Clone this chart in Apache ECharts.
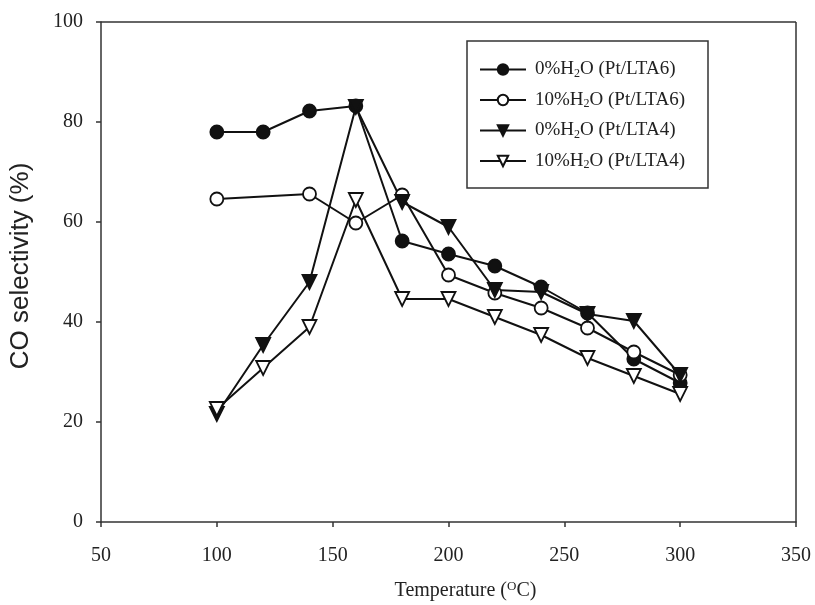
<!DOCTYPE html>
<html>
<head>
<meta charset="utf-8">
<script src="https://cdn.jsdelivr.net/npm/echarts@6/dist/echarts.min.js"></script>
<style>html,body{margin:0;padding:0;background:#fff}#c{width:815px;height:605px}</style>
</head>
<body>
<div id="c"></div>
<script>
const temps = [100, 120, 140, 160, 180, 200, 220, 240, 260, 280, 300];
const lta6_dry = [78, 78, 82.2, 83.2, 56.2, 53.6, 51.2, 47, 41.8, 32.6, 27.8];
const lta6_wet = [64.6, null, 65.6, 59.8, 65.4, 49.4, 45.8, 42.8, 38.8, 34, 29.4];
const lta4_dry = [21.6, 35.4, 48, 83, 64, 59, 46.4, 46, 41.6, 40.2, 29.4];
const lta4_wet = [22.6, 30.8, 39, 64.4, 44.6, 44.6, 41, 37.4, 32.8, 29.2, 25.6];
const seriesNames = ['0%H2O (Pt/LTA6)', '10%H2O (Pt/LTA6)', '0%H2O (Pt/LTA4)', '10%H2O (Pt/LTA4)'];
const xTicks = [50, 100, 150, 200, 250, 300, 350];
const yTicks = [0, 20, 40, 60, 80, 100];

const serif = "'Liberation Serif', 'DejaVu Serif', serif";
function pairs(vals) {
  const out = [];
  temps.forEach((t, i) => { if (vals[i] !== null) out.push([t, vals[i]]); });
  return out;
}
function mk(name, vals, symbol, filled, rotate) {
  return {
    name: name, type: 'line', data: pairs(vals),
    symbol: symbol, symbolSize: symbol === 'circle' ? 13 : 14,
    symbolRotate: rotate || 0,
    lineStyle: { color: '#111', width: 2 },
    itemStyle: { color: filled ? '#111' : '#fff', borderColor: '#111', borderWidth: 1.8 },
    emphasis: { disabled: true }, animation: false, z: 3
  };
}
const chart = echarts.init(document.getElementById('c'), null, { renderer: 'canvas' });
chart.setOption({
  backgroundColor: '#fff',
  animation: false,
  grid: { left: 101, right: 19, top: 22, bottom: 83, show: false, containLabel: false, outerBoundsMode: 'none' },
  xAxis: {
    type: 'value', min: xTicks[0], max: xTicks[xTicks.length - 1], interval: 50,
    name: 'Temperature ({sup|O}C)', nameLocation: 'middle', nameGap: 58,
    nameTextStyle: { fontFamily: serif, fontSize: 20, color: '#222', padding: [0, 0, 0, 34],
      rich: { sup: { fontFamily: serif, fontSize: 13, verticalAlign: 'top', padding: [0, 0, 8, 0], color: '#222' } } },
    axisLine: { show: true, lineStyle: { color: '#333', width: 1.5 } },
    axisTick: { show: true, inside: false, length: 5, lineStyle: { color: '#333', width: 1.5 } },
    axisLabel: { fontFamily: serif, fontSize: 20, color: '#222', margin: 24 },
    splitLine: { show: false }
  },
  yAxis: {
    type: 'value', min: yTicks[0], max: yTicks[yTicks.length - 1], interval: 20,
    name: 'CO selectivity (%)', nameLocation: 'middle', nameGap: 67, nameRotate: 90,
    nameTextStyle: { fontFamily: "'Liberation Sans', Arial, sans-serif", fontSize: 26, color: '#222', padding: [0, 0, 0, 12] },
    axisLine: { show: true, lineStyle: { color: '#333', width: 1.5 } },
    axisTick: { show: true, inside: false, length: 5, lineStyle: { color: '#333', width: 1.5 } },
    axisLabel: { fontFamily: serif, fontSize: 20, color: '#222', margin: 18 },
    splitLine: { show: false }
  },
  legend: {
    orient: 'vertical', left: 474, top: 55, itemWidth: 46, itemHeight: 13, itemGap: 11,
    data: seriesNames,
    formatter: function (n) { return n.replace('H2O', 'H{sub|2}O'); },
    textStyle: { fontFamily: serif, fontSize: 19, color: '#222', padding: [0, 0, 0, 4],
      rich: { sub: { fontFamily: serif, fontSize: 12, verticalAlign: 'bottom', padding: [8, 0, 0, 0], color: '#222' } } },
    selectedMode: false
  },
  graphic: [{
    type: 'rect', shape: { x: 467, y: 41, width: 241, height: 147 },
    style: { fill: 'none', stroke: '#333', lineWidth: 1.5 }, z: 10
  }, {
    type: 'line', shape: { x1: 101, y1: 22, x2: 796, y2: 22 }, style: { stroke: '#333', lineWidth: 1.5 }
  }, {
    type: 'line', shape: { x1: 796, y1: 22, x2: 796, y2: 522 }, style: { stroke: '#333', lineWidth: 1.5 }
  }],
  series: [
    mk(seriesNames[0], lta6_dry, 'circle', true),
    mk(seriesNames[1], lta6_wet, 'circle', false),
    mk(seriesNames[2], lta4_dry, 'triangle', true, 180),
    mk(seriesNames[3], lta4_wet, 'triangle', false, 180)
  ]
});
</script>
</body>
</html>
